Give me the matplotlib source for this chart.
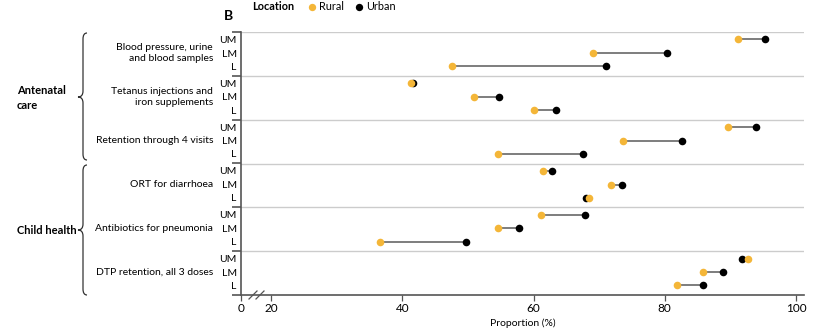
import matplotlib
matplotlib.use("Agg")
import matplotlib.pyplot as plt
from matplotlib.path import Path
from matplotlib.patches import PathPatch

plt.rcParams['font.family'] = ['Lato', 'DejaVu Sans']

# data
indicators = ["Blood pressure, urine\nand blood samples",
              "Tetanus injections and\niron supplements",
              "Retention through 4 visits",
              "ORT for diarrhoea",
              "Antibiotics for pneumonia",
              "DTP retention, all 3 doses"]
levels = ["UM", "LM", "L"]
rural = [
    [91.1, 69.0, 47.6],
    [41.3, 51.0, 60.0],
    [89.6, 73.7, 54.6],
    [61.4, 71.8, 68.4],
    [61.1, 54.6, 36.6],
    [92.7, 85.8, 81.9],
]
urban = [
    [95.3, 80.3, 71.1],
    [41.7, 54.7, 63.4],
    [93.9, 82.7, 67.5],
    [62.8, 73.5, 68.0],
    [67.9, 57.8, 49.7],
    [91.7, 88.8, 85.8],
]
xticks = [20, 40, 60, 80, 100]

ORANGE = "#F4B638"
DARK = "#555555"
W, H = 814, 331

fig = plt.figure(figsize=(W / 100, H / 100), dpi=100)

# main axes: left 241px, right 804px, top 32px, bottom 295px
ax = fig.add_axes([241 / W, (H - 295) / H, (804 - 241) / W, (295 - 32) / H])
xmin = 20 - 30 / 6.5625
ax.set_xlim(xmin, 100 + 8 / 6.5625)
ax.set_ylim(len(indicators), 0)

offsets = [0.17, 0.48, 0.78]
ys, r_all, u_all = [], [], []
for g in range(len(indicators)):
    for j in range(3):
        ys.append(g + offsets[j])
        r_all.append(rural[g][j])
        u_all.append(urban[g][j])

ax.hlines(ys, r_all, u_all, color="#5a5a5a", lw=1.1, zorder=2)
ax.scatter(u_all, ys, s=30, color="black", zorder=3, linewidths=0)
ax.scatter(r_all, ys, s=30, color=ORANGE, zorder=4, linewidths=0)

# group separators
for g in range(len(indicators)):
    ax.axhline(g, color="#cccccc", lw=1, zorder=1)

for s in ["top", "right"]:
    ax.spines[s].set_visible(False)
for s in ["left", "bottom"]:
    ax.spines[s].set_color(DARK)
    ax.spines[s].set_linewidth(1.2)

ax.set_xticks([xmin] + xticks)
ax.set_xticklabels(["0"] + [str(t) for t in xticks])
ax.tick_params(axis="x", length=4, width=0.9, color=DARK, labelsize=8.5, pad=2)
ax.set_yticks(ys)
ax.set_yticklabels(levels * len(indicators))
ax.tick_params(axis="y", length=0, labelsize=7.5, pad=3)
ax.set_xlabel("Proportion (%)", fontsize=7.5, labelpad=3)

# overlay in pixel coordinates for annotations
ov = fig.add_axes([0, 0, 1, 1], facecolor="none")
ov.set_xlim(0, W)
ov.set_ylim(H, 0)
ov.axis("off")

# left ticks of separators and bottom axis
for yy in [32, 75.8, 119.6, 163.4, 207.2, 251, 295]:
    ov.plot([232, 241], [yy, yy], color=DARK, lw=1.2, solid_capstyle="butt")

# axis break marks
for x0 in [249, 256]:
    ov.plot([x0, x0 + 8], [299, 291], color=DARK, lw=0.9)

# group labels
for g, lab in enumerate(indicators):
    yc = 32 + g * 43.83 + 21
    ov.text(213, yc, lab, ha="right", va="center", fontsize=7.5,
            linespacing=1.25)


def brace(x_end, x_spine, x_tip, y0, y1, ym, r=6):
    verts = [(x_end, y0), (x_spine, y0), (x_spine, y0 + r),
             (x_spine, ym - r), (x_spine, ym), (x_tip, ym),
             (x_spine, ym), (x_spine, ym + r),
             (x_spine, y1 - r), (x_spine, y1), (x_end, y1)]
    codes = [Path.MOVETO, Path.CURVE3, Path.CURVE3,
             Path.LINETO, Path.CURVE3, Path.CURVE3,
             Path.CURVE3, Path.CURVE3,
             Path.LINETO, Path.CURVE3, Path.CURVE3]
    ov.add_patch(PathPatch(Path(verts, codes), fill=False,
                           edgecolor="#333333", lw=0.9))


brace(87, 83, 78, 33, 160, 97)
brace(87, 83, 78, 165, 295, 230)
ov.text(17, 98, "Antenatal\ncare", ha="left", va="center", fontsize=8,
        fontweight="bold", linespacing=1.45)
ov.text(17, 230, "Child health", ha="left", va="center", fontsize=8,
        fontweight="bold")

# panel letter and legend
ov.text(224, 16, "B", ha="left", va="center", fontsize=10, fontweight="bold")
ov.text(252, 7, "Location", ha="left", va="center", fontsize=7.8,
        fontweight="bold")
ov.scatter([312], [7], s=28, color=ORANGE, linewidths=0)
ov.text(319, 7, "Rural", ha="left", va="center", fontsize=7.8)
ov.scatter([359], [7], s=28, color="black", linewidths=0)
ov.text(366, 7, "Urban", ha="left", va="center", fontsize=7.8)

fig.savefig("out.png", dpi=100)
